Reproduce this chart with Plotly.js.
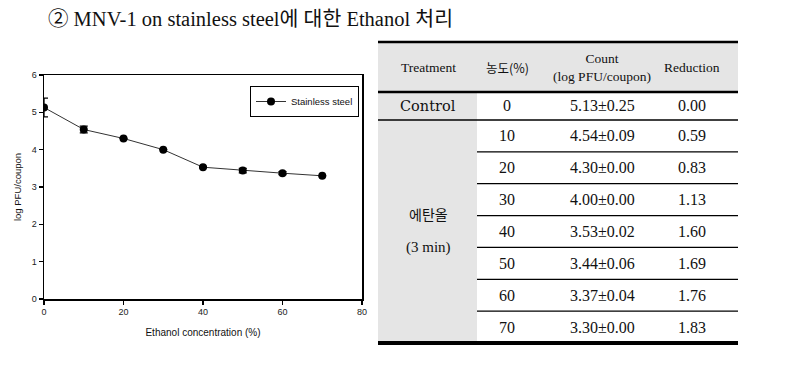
<!DOCTYPE html>
<html>
<head>
<meta charset="utf-8">
<script src="https://cdn.plot.ly/plotly-3.0.1.min.js"></script>
<style>html,body{margin:0;padding:0;background:#fff;}#chart{width:798px;height:372px;}</style>
</head>
<body>
<div id="chart"></div>
<script>
// ---- data ----
const concentrations = [0, 10, 20, 30, 40, 50, 60, 70];
const meanLog = [5.13, 4.54, 4.30, 4.00, 3.53, 3.44, 3.37, 3.30];
const sdLog = [0.25, 0.09, 0.00, 0.00, 0.02, 0.06, 0.04, 0.00];
const reduction = [0.00, 0.59, 0.83, 1.13, 1.60, 1.69, 1.76, 1.83];
const seriesName = 'Stainless steel';
const headerLabels = ['Treatment', '농도(%)', 'Count<br>(log PFU/coupon)', 'Reduction'];
const controlLabel = 'Control';
const treatLabel = '에탄올';
const treatTime = '(3 min)';
const titleText = '② MNV-1 on stainless steel에 대한 Ethanol 처리';

// ---- layout helpers (pixel -> paper, margins are 0) ----
const W = 798, H = 372;
const px = x => x / W;
const py = y => 1 - y / H;

const trace = {
  x: concentrations,
  y: meanLog,
  name: seriesName,
  type: 'scatter',
  mode: 'lines+markers',
  line: {color: '#333', width: 1},
  marker: {color: '#000', size: 8},
  error_y: {type: 'data', array: sdLog, visible: true, color: '#000', thickness: 1.3, width: 4},
  showlegend: true
};

// ---- table built from data ----
const shapes = [];
const annotations = [];
const tL = 378, tR = 738, tTop = 42, hdrBot = 92, ctrlBot = 120, tBot = 343, col1R = 477;
const colX = [428, 507, 602, 692];
const rowH = (tBot - ctrlBot) / (concentrations.length - 1);

// gray backgrounds
shapes.push({type: 'rect', xref: 'paper', yref: 'paper', x0: px(tL), x1: px(tR), y0: py(tTop), y1: py(hdrBot), fillcolor: '#e5e5e5', line: {width: 0}, layer: 'below'});
shapes.push({type: 'rect', xref: 'paper', yref: 'paper', x0: px(tL), x1: px(col1R), y0: py(hdrBot), y1: py(tBot), fillcolor: '#e5e5e5', line: {width: 0}, layer: 'below'});
// rules
const hline = (x0, x1, y, w) => shapes.push({type: 'line', xref: 'paper', yref: 'paper', x0: px(x0), x1: px(x1), y0: py(y), y1: py(y), line: {color: '#000', width: w}});
hline(tL, tR, tTop, 2.5);
hline(tL, tR, hdrBot, 2.5);
hline(tL, tR, ctrlBot, 1.3);
for (let i = 1; i < concentrations.length - 1; i++) hline(col1R, tR, ctrlBot + i * rowH, 1.3);
hline(tL, tR, tBot, 4);

const txt = (text, x, y, font) => annotations.push({text: text, xref: 'paper', yref: 'paper', x: px(x), y: py(y), xanchor: 'center', yanchor: 'middle', showarrow: false, font: font});
const hdrFont = {family: 'Liberation Serif, Noto Sans CJK KR', size: 13.5, color: '#111'};
headerLabels.forEach((h, j) => txt(h, colX[j], 67, j === 1 ? {family: 'Noto Sans CJK KR', size: 12.5, color: '#111'} : hdrFont));
const numFont = {family: 'Liberation Serif', size: 16, color: '#111'};
concentrations.forEach((c, i) => {
  const yc = i === 0 ? (hdrBot + ctrlBot) / 2 : ctrlBot + (i - 0.5) * rowH;
  txt(String(c), colX[1], yc, numFont);
  txt(meanLog[i].toFixed(2) + '±' + sdLog[i].toFixed(2), colX[2], yc, numFont);
  txt(reduction[i].toFixed(2), colX[3], yc, numFont);
});
txt(controlLabel, colX[0], (hdrBot + ctrlBot) / 2, {family: 'DejaVu Serif', size: 14.5, color: '#111'});
txt(treatLabel, colX[0], 214, {family: 'Noto Sans CJK KR', size: 14, color: '#111'});
txt(treatTime, colX[0], 247, {family: 'Liberation Serif', size: 15, color: '#111'});

const axisCommon = {
  showgrid: false, zeroline: false, showline: true, linecolor: '#000', linewidth: 1.5,
  mirror: true, ticks: 'outside', ticklen: 4, tickwidth: 1.3, tickcolor: '#000',
  tickfont: {family: 'Liberation Sans, Arial', size: 9, color: '#222'}
};

const layout = {
  width: W, height: H,
  margin: {l: 0, r: 0, t: 0, b: 0},
  paper_bgcolor: '#fff', plot_bgcolor: '#fff',
  title: {text: titleText, x: px(48), xanchor: 'left', y: py(19), yanchor: 'middle', xref: 'paper', yref: 'paper',
          font: {family: 'Liberation Serif, Noto Sans CJK KR', size: 20.5, color: '#111'}},
  xaxis: Object.assign({}, axisCommon, {domain: [px(44), px(362)], range: [0, 80], tick0: 0, dtick: 20,
          title: {text: 'Ethanol concentration (%)', font: {family: 'Liberation Sans, Arial', size: 10, color: '#111'}, standoff: 12}}),
  yaxis: Object.assign({}, axisCommon, {domain: [1 - 299 / H, 1 - 75 / H], range: [0, 6], tick0: 0, dtick: 1,
          title: {text: 'log PFU/coupon', font: {family: 'Liberation Sans, Arial', size: 9.5, color: '#111'}, standoff: 8}}),
  legend: {x: px(250), y: py(86), xanchor: 'left', yanchor: 'top', bordercolor: '#000', borderwidth: 1,
           bgcolor: '#fff', font: {family: 'Liberation Sans, Arial', size: 9.5, color: '#111'}, itemwidth: 30},
  shapes: shapes,
  annotations: annotations
};

Plotly.newPlot('chart', [trace], layout, {displayModeBar: false, staticPlot: true});
</script>
</body>
</html>
